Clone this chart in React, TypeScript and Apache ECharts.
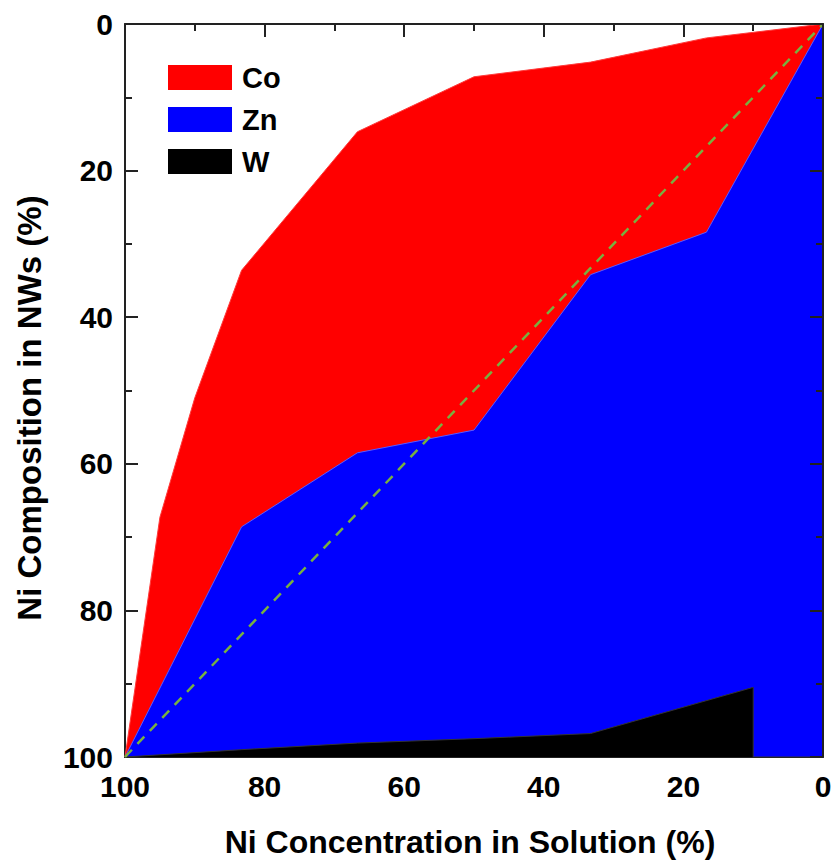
import React, { useEffect, useRef } from 'react';
import * as echarts from 'echarts';

// Ni concentration in solution (%) and the boundary of each filled region (Ni composition in NWs, %)
const coConcentration = [100, 95, 90, 83.3, 66.7, 50, 33.3, 16.7, 0];
const coBoundary = [100, 67.3, 51, 33.6, 14.7, 7.2, 5.2, 1.9, 0];

const znConcentration = [100, 83.3, 66.7, 50, 33.3, 16.7, 0];
const znBoundary = [100, 68.6, 58.5, 55.4, 34.2, 28.4, 0];

const wConcentration = [100, 83.3, 66.7, 50, 33.3, 10, 10, 0];
const wBoundary = [100, 99.0, 98.1, 97.5, 96.8, 90.5, 100, 100];

const idealConcentration = [100, 0];
const idealComposition = [100, 0];

const seriesNames = ['Co', 'Zn', 'W'];
const seriesColors = ['#ff0000', '#0000ff', '#000000'];

const FONT = '"Liberation Sans", Arial, Helvetica, sans-serif';

const pairs = (xs: number[], ys: number[]) => xs.map((x, i) => [x, ys[i]]);

export default function App() {
  const ref = useRef<HTMLDivElement>(null);

  useEffect(() => {
    document.body.style.margin = '0';
    if (!ref.current) return;
    const chart = echarts.init(ref.current, undefined, { renderer: 'svg' });

    const axisColor = '#222';
    const baseAxis = {
      type: 'value',
      min: 0,
      max: 100,
      interval: 20,
      inverse: true,
      axisLine: { show: true, onZero: false, lineStyle: { color: axisColor, width: 2 } },
      axisTick: { show: true, inside: true, length: 13, lineStyle: { color: axisColor, width: 2 } },
      minorTick: { show: true, splitNumber: 2, length: 7, lineStyle: { color: axisColor, width: 2 } },
      splitLine: { show: false },
      minorSplitLine: { show: false },
    };
    const labelStyle = {
      fontSize: 30,
      fontWeight: 'bold',
      color: '#000',
      fontFamily: FONT,
    };

    const areaSeries = (name: string, color: string, lineColor: string, xs: number[], ys: number[], z: number) => ({
      name,
      type: 'line',
      data: pairs(xs, ys),
      symbol: 'none',
      smooth: false,
      z,
      itemStyle: { color },
      lineStyle: { color: lineColor, width: 1 },
      areaStyle: { color, opacity: 1, origin: 'end' },
      silent: true,
    });

    chart.setOption({
      animation: false,
      backgroundColor: '#ffffff',
      grid: { left: 125, right: 11, top: 24, bottom: 107, outerBoundsMode: 'none' },
      legend: {
        show: true,
        orient: 'vertical',
        left: 163,
        top: 58,
        itemWidth: 64,
        itemHeight: 25,
        itemGap: 13,
        icon: 'rect',
        selectedMode: false,
        data: seriesNames.map((n, i) => ({
          name: n,
          itemStyle: { color: seriesColors[i], borderWidth: 0 },
        })),
        textStyle: {
          fontSize: 29,
          lineHeight: 29,
          fontWeight: 'bold',
          color: '#000',
          fontFamily: FONT,
          padding: [0, 0, 0, 5],
        },
      },
      xAxis: [
        {
          ...baseAxis,
          position: 'bottom',
          axisLabel: { ...labelStyle, margin: 14 },
        },
        {
          ...baseAxis,
          position: 'top',
          axisLabel: { show: false },
          z: 10,
        },
      ],
      yAxis: [
        {
          ...baseAxis,
          position: 'left',
          axisLabel: { ...labelStyle, fontSize: 30, margin: 12 },
        },
        {
          ...baseAxis,
          position: 'right',
          axisLabel: { show: false },
          z: 10,
        },
      ],
      series: [
        areaSeries('Co', seriesColors[0], '#ff3a3a', coConcentration, coBoundary, 2),
        areaSeries('Zn', seriesColors[1], '#5a5aff', znConcentration, znBoundary, 3),
        areaSeries('W', seriesColors[2], '#333333', wConcentration, wBoundary, 4),
        {
          name: 'ideal',
          type: 'line',
          data: pairs(idealConcentration, idealComposition),
          symbol: 'none',
          z: 5,
          silent: true,
          lineStyle: { color: '#78b040', width: 2.5, type: [10, 8] },
        },
      ],
      graphic: [
        {
          type: 'text',
          x: 470,
          y: 842,
          silent: true,
          style: {
            text: 'Ni Concentration in Solution (%)',
            fontSize: 32,
            fontWeight: 'bold',
            fontFamily: FONT,
            fill: '#000',
            align: 'center',
            verticalAlign: 'middle',
          },
        },
        {
          type: 'text',
          x: 29,
          y: 408,
          rotation: Math.PI / 2,
          silent: true,
          style: {
            text: 'Ni Composition in NWs (%)',
            fontSize: 33,
            fontWeight: 'bold',
            fontFamily: FONT,
            fill: '#000',
            align: 'center',
            verticalAlign: 'middle',
          },
        },
      ],
    });

    return () => {
      chart.dispose();
    };
  }, []);

  return <div ref={ref} style={{ width: 834, height: 864 }} />;
}
